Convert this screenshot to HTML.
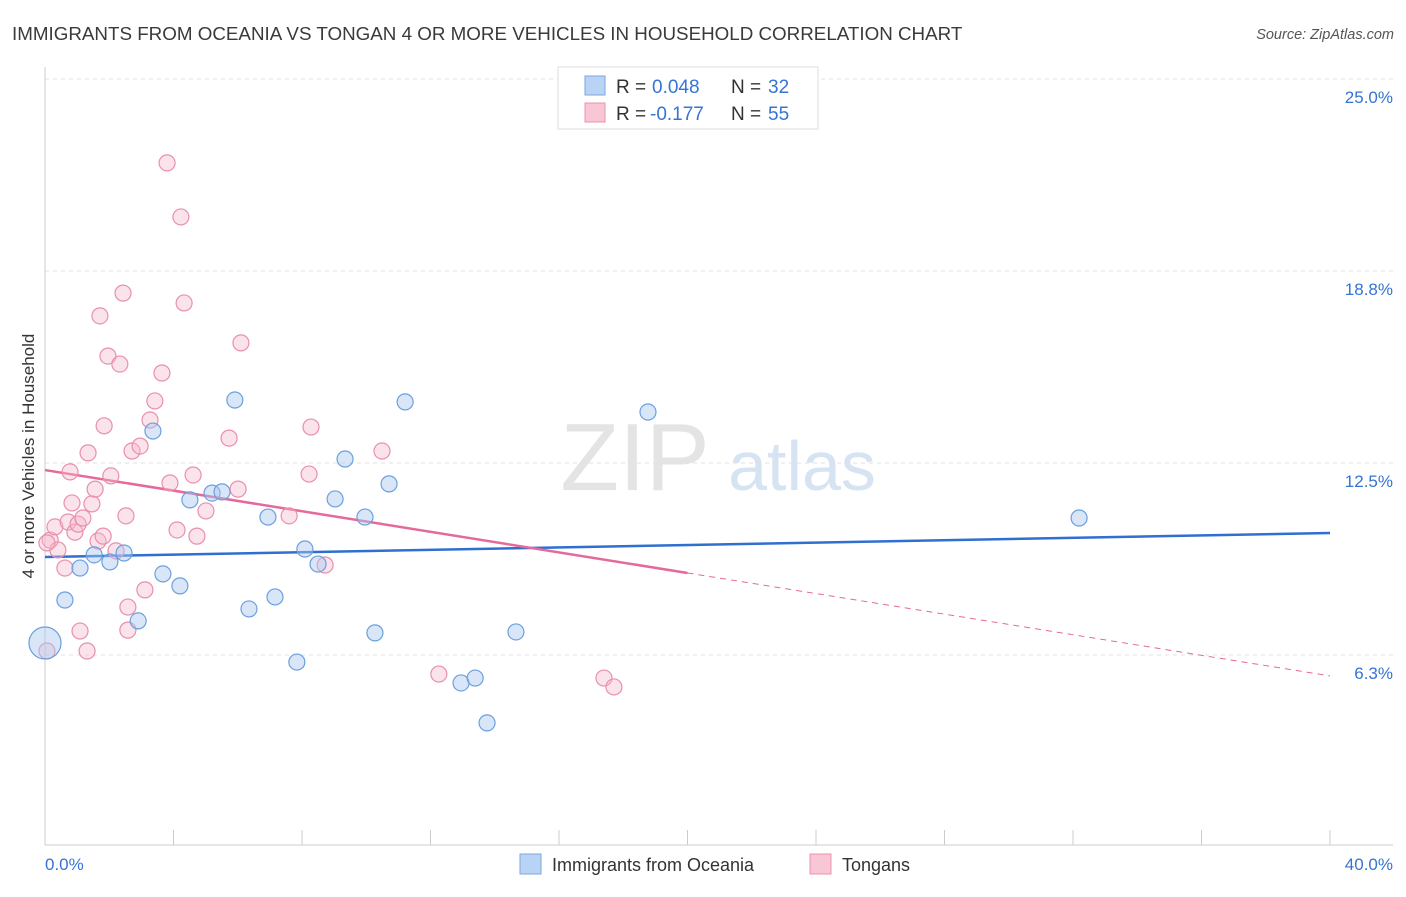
<!DOCTYPE html>
<html><head><meta charset="utf-8"><style>
body{margin:0;background:#fff;font-family:"Liberation Sans",sans-serif}
svg text{font-family:"Liberation Sans",sans-serif}
</style></head><body>
<svg id="chart" width="1406" height="892" viewBox="0 0 1406 892" xmlns="http://www.w3.org/2000/svg">
<text x="12" y="40" font-size="18.8" fill="#3a3a3a">IMMIGRANTS FROM OCEANIA VS TONGAN 4 OR MORE VEHICLES IN HOUSEHOLD CORRELATION CHART</text>
<text x="1394" y="39" font-size="14.5" fill="#555" text-anchor="end" font-style="italic">Source: ZipAtlas.com</text>
<g>
<text x="635" y="490" font-size="96" fill="#e4e4e4" text-anchor="middle" font-family="Liberation Serif">ZIP</text>
<text x="802" y="490" font-size="70" fill="#d6e3f3" text-anchor="middle">atlas</text>
</g>
<g id="grid"></g>
<g id="axes"></g>
<g id="trends"></g>
<g id="points"></g>
<g>
<rect x="558" y="67" width="260" height="62" fill="#fff" stroke="#ddd"/>
<rect x="585" y="76" width="20" height="19" fill="#b9d3f5" stroke="#7aa7e0"/>
<rect x="585" y="103" width="20" height="19" fill="#f9c6d6" stroke="#eb93ae"/>
<text x="616" y="93" font-size="19" fill="#333">R =</text>
<text x="652" y="93" font-size="19" fill="#3574d4">0.048</text>
<text x="731" y="93" font-size="19" fill="#333">N =</text>
<text x="768" y="93" font-size="19" fill="#3574d4">32</text>
<text x="616" y="120" font-size="19" fill="#333">R =</text>
<text x="650" y="120" font-size="19" fill="#3574d4">-0.177</text>
<text x="731" y="120" font-size="19" fill="#333">N =</text>
<text x="768" y="120" font-size="19" fill="#3574d4">55</text>
</g>
<g>
<rect x="520" y="854" width="21" height="20" fill="#b9d3f5" stroke="#7aa7e0"/>
<text x="552" y="871" font-size="18" fill="#333">Immigrants from Oceania</text>
<rect x="810" y="854" width="21" height="20" fill="#f9c6d6" stroke="#eb93ae"/>
<text x="842" y="871" font-size="18" fill="#333">Tongans</text>
</g>
<text transform="translate(34,456) rotate(-90)" font-size="17" fill="#333" text-anchor="middle">4 or more Vehicles in Household</text>
</svg>
<script>
const yTicks=[25,18.75,12.5,6.25];
const yTickLabels=["25.0%","18.8%","12.5%","6.3%"];
const xTickLabels=["0.0%","40.0%"];
const blueX=[0,0.62,1.09,1.53,2.02,2.46,2.90,3.36,3.67,4.20,4.51,5.20,5.51,5.91,6.35,6.94,7.16,7.84,8.09,8.50,9.03,9.34,9.96,10.27,10.71,11.21,12.95,13.39,13.76,14.66,18.77,32.19];
const blueY=[6.64,8.04,9.08,9.51,9.28,9.57,7.36,13.54,8.89,8.50,11.30,11.52,11.56,14.55,7.75,10.74,8.14,6.02,9.70,9.21,11.33,12.63,10.74,6.97,11.82,14.49,5.34,5.50,4.04,7.00,14.16,10.71];
const pinkX=[0.06,0.16,0.31,0.40,0.62,0.72,0.78,0.84,0.93,1.03,1.09,1.18,1.31,1.34,1.46,1.56,1.65,1.71,1.81,1.84,1.96,2.05,2.21,2.33,2.43,2.52,2.58,2.58,2.71,2.96,3.11,3.27,3.42,3.64,3.80,3.89,4.11,4.23,4.33,4.61,4.73,5.01,5.73,6.01,6.10,7.60,8.22,8.28,8.72,10.49,12.26,17.40,17.71,0.06];
const pinkY=[6.38,9.99,10.42,9.67,9.08,10.58,12.21,11.20,10.25,10.51,7.03,10.71,6.38,12.83,11.17,11.65,9.96,17.29,10.12,13.71,15.98,12.08,9.64,15.72,18.03,10.78,7.81,7.06,12.89,13.05,8.37,13.90,14.52,15.43,22.27,11.85,10.32,20.51,17.71,12.11,10.12,10.94,13.31,11.65,16.41,10.78,12.14,13.67,9.18,12.89,5.63,5.50,5.21,9.90];
const blueTrend=[9.44,10.22];
const pinkTrend=[12.27,5.57];
const NS="http://www.w3.org/2000/svg";
const X0=45,X1=1330,Y25=79,PX=30.72;
const sx=v=>X0+(v/40)*(X1-X0);
const sy=v=>Y25+(25-v)*PX;
function mk(t,a,p){const e=document.createElementNS(NS,t);for(const k in a)e.setAttribute(k,a[k]);p.appendChild(e);return e;}
const grid=document.getElementById('grid'),axes=document.getElementById('axes'),tr=document.getElementById('trends'),pts=document.getElementById('points');
yTicks.forEach((v,i)=>{
 const l=mk('line',{x1:X0,x2:1393,y1:sy(v),y2:sy(v),stroke:'#e2e2e2','stroke-dasharray':'4,4'},grid);
 
 
 const t=mk('text',{x:1393,y:sy(v)+24,'font-size':17,fill:'#3574d4','text-anchor':'end'},axes);
 t.textContent=yTickLabels[i];
 
 
});
let a=mk('line',{x1:X0,x2:X0,y1:67,y2:845,stroke:'#ccc'},axes);


a=mk('line',{x1:X0,x2:1393,y1:845,y2:845,stroke:'#ccc'},axes);


for(let v=0;v<=40;v+=4){
 const t=mk('line',{x1:sx(v),x2:sx(v),y1:830,y2:845,stroke:'#ccc'},axes);
 
 
}
[[0,'start',45],[40,'end',1393]].forEach((d,i)=>{
 const t=mk('text',{x:d[2],y:870,'font-size':17,fill:'#3574d4','text-anchor':d[1]},axes);
 t.textContent=xTickLabels[i];
 
 
});
function circ(x,y,fill,stroke,r){const c=mk('circle',{cx:sx(x),cy:sy(y),r:r,fill:fill,stroke:stroke,'stroke-width':1.2},pts);return c;}
pinkX.forEach((x,i)=>{const c=circ(x,pinkY[i],'rgba(246,184,204,0.4)','#e98fac',8);
 
 });
blueX.forEach((x,i)=>{const c=circ(x,blueY[i],'rgba(170,200,240,0.45)','#6b9fdf',i===0?16:8);
 
 });
let l=mk('line',{x1:sx(0),y1:sy(blueTrend[0]),x2:sx(40),y2:sy(blueTrend[1]),stroke:'#2f6fcf','stroke-width':2.5},tr);


const pm=v=>pinkTrend[0]+(pinkTrend[1]-pinkTrend[0])*v/40;
l=mk('line',{x1:sx(0),y1:sy(pm(0)),x2:sx(20),y2:sy(pm(20)),stroke:'#e5699a','stroke-width':2.5},tr);


l=mk('line',{x1:sx(20),y1:sy(pm(20)),x2:sx(40),y2:sy(pm(40)),stroke:'#e5699a','stroke-width':1,'stroke-dasharray':'6,5'},tr);


</script>
</body></html>
